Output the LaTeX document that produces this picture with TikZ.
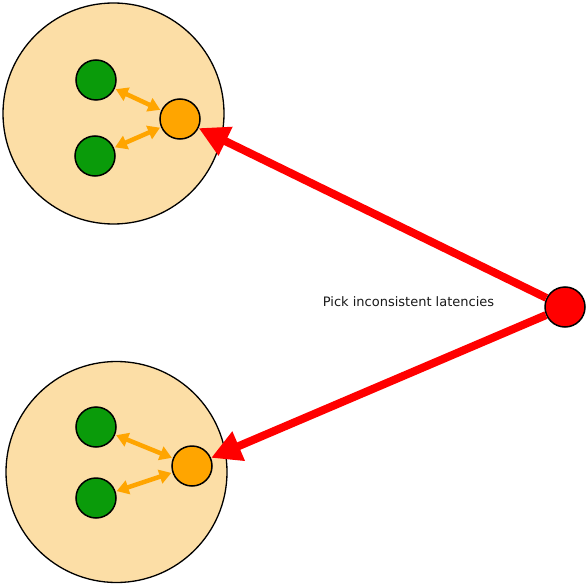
\documentclass[tikz,border=0pt]{standalone}
\usepackage{fontspec}
\setmainfont{DejaVu Sans}
\usetikzlibrary{arrows.meta}
\definecolor{bigfill}{RGB}{252,222,166}
\definecolor{greenfill}{RGB}{10,155,10}
\definecolor{orangefill}{RGB}{255,165,0}
\begin{document}
\begin{tikzpicture}[x=1pt,y=-1pt,
  group/.style={circle,draw=black,line width=1.3pt,fill=bigfill,minimum size=221pt,inner sep=0pt},
  leaf/.style={circle,draw=black,line width=1.5pt,fill=greenfill,minimum size=40pt,inner sep=0pt},
  hub/.style={circle,draw=black,line width=1.5pt,fill=orangefill,minimum size=40pt,inner sep=0pt},
  src/.style={circle,draw=black,line width=1.5pt,fill=red,minimum size=40pt,inner sep=0pt},
  link/.style={orangefill,line width=4.5pt,{Triangle[length=12pt,width=14pt]}-{Triangle[length=12pt,width=14pt]},shorten <=1pt,shorten >=1pt},
  probe/.style={red,line width=8pt,-{Triangle[length=30pt,width=30pt]}}]
\useasboundingbox (0,0) rectangle (588,585);
\node[group] (g1) at (113.5,113.5) {};
\node[group] (g2) at (116.5,472) {};
\node[leaf] (a1) at (96,80) {};
\node[leaf] (a2) at (95,156) {};
\node[hub] (h1) at (180,119) {};
\node[leaf] (b1) at (96,427) {};
\node[leaf] (b2) at (96,498) {};
\node[hub] (h2) at (192,466) {};
\node[src] (r) at (565,307) {};
\draw[link] (a1) -- (h1);
\draw[link] (h1) -- (a2);
\draw[link] (b1) -- (h2);
\draw[link] (h2) -- (b2);
\draw[probe] (r) -- (h1);
\draw[probe] (r) -- (h2);
\node[font=\fontsize{13}{15}\selectfont,text=black!90] (lbl) at (408.5,302) {Pick inconsistent latencies};
\end{tikzpicture}
\end{document}
